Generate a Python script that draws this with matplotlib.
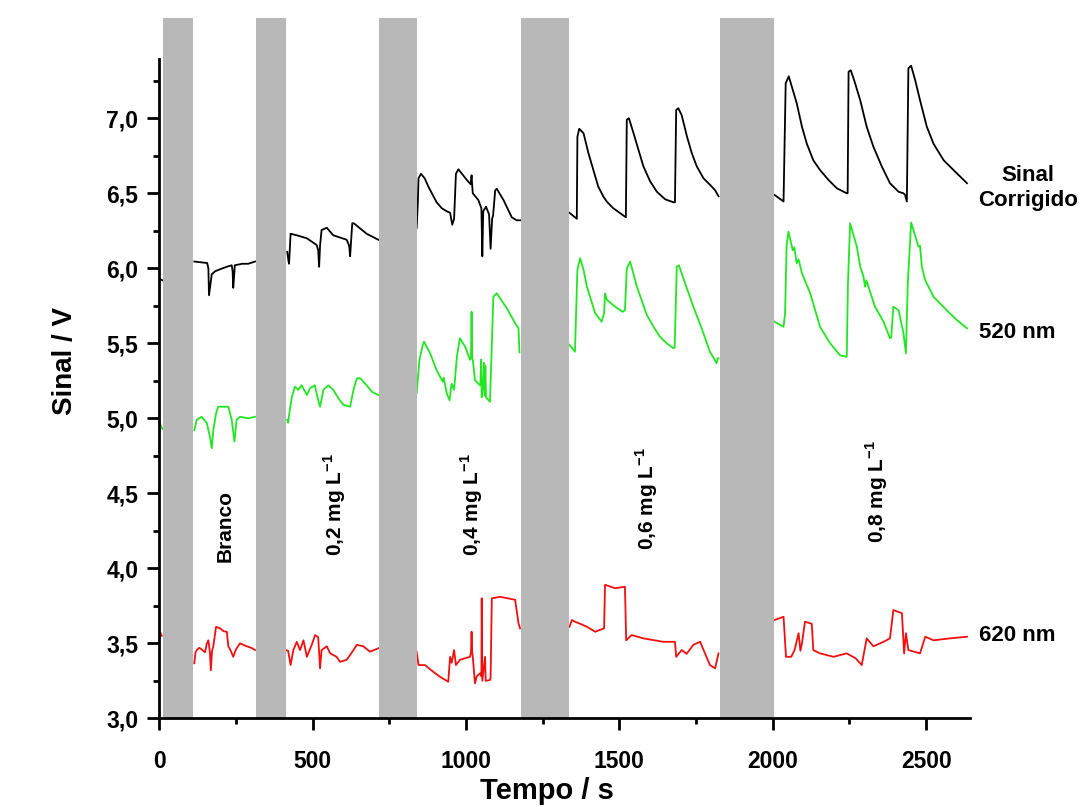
import numpy as np
import matplotlib
matplotlib.use("Agg")
import matplotlib.pyplot as plt
from matplotlib.ticker import MultipleLocator, FuncFormatter

nan = np.nan

# Corrected signal (black)
t_corr = [0, 10, nan,
          114, 156, 160, 162, 171, 182, 200, 220, 236, 239, 241, 244, 246, 270, 290, 312, nan,
          417, 421, 423, 428, 448, 481, 513, 518, 521, 524, 529, 546, 567, 611, 619, 622, 626, 629, 634, 676, 714, nan,
          839, 843, 845, 853, 865, 877, 904, 921, 937, 948, 955, 961, 967, 975, 1002, 1015, 1018, 1020, 1022, 1040, 1050, 1053,
          1056, 1065, 1075, 1080, 1085, 1088, 1095, 1100, 1122, 1149, 1165, 1176, nan,
          1337, 1361, 1363, 1369, 1383, 1399, 1415, 1431, 1448, 1459, 1480, 1518, 1521, 1524, 1531, 1546, 1562, 1578, 1600,
          1622, 1649, 1676, 1681, 1685, 1692, 1703, 1720, 1736, 1752, 1774, 1796, 1812, 1823, nan,
          2005, 2035, 2042, 2052, 2062, 2078, 2095, 2111, 2132, 2154, 2181, 2209, 2241, 2244, 2247, 2254, 2265, 2285, 2306,
          2328, 2355, 2382, 2410, 2426, 2431, 2437, 2442, 2451, 2464, 2480, 2502, 2524, 2557, 2589, 2633]
v_corr = [5.93, 5.92, nan,
          6.045, 6.035, 6.0, 5.82, 5.96, 5.98, 5.995, 6.01, 6.02, 5.98, 5.87, 5.95, 6.02, 6.03, 6.03, 6.045, nan,
          6.11, 6.05, 6.03, 6.23, 6.22, 6.20, 6.155, 6.12, 6.01, 6.15, 6.255, 6.27, 6.22, 6.19, 6.15, 6.08, 6.20, 6.30, 6.30, 6.23, 6.19, nan,
          6.27, 6.45, 6.60, 6.63, 6.60, 6.545, 6.44, 6.40, 6.38, 6.37, 6.29, 6.33, 6.63, 6.66, 6.59, 6.56, 6.62, 6.55, 6.50, 6.455, 6.40, 6.08,
          6.38, 6.41, 6.36, 6.13, 6.33, 6.35, 6.52, 6.53, 6.455, 6.34, 6.32, 6.32, nan,
          6.37, 6.33, 6.877, 6.93, 6.90, 6.767, 6.655, 6.544, 6.477, 6.444, 6.40, 6.344, 6.34, 6.99, 7.0, 6.90, 6.79, 6.68, 6.58,
          6.51, 6.46, 6.44, 6.44, 7.055, 7.067, 7.02, 6.88, 6.767, 6.68, 6.60, 6.555, 6.52, 6.48, nan,
          6.49, 6.445, 7.233, 7.28, 7.21, 7.10, 6.944, 6.83, 6.72, 6.655, 6.59, 6.533, 6.50, 6.50, 7.31, 7.32, 7.255, 7.12, 6.944,
          6.81, 6.68, 6.567, 6.51, 6.50, 6.49, 6.445, 7.333, 7.35, 7.255, 7.12, 6.944, 6.83, 6.72, 6.655, 6.567]

# 520 nm signal (green)
t_520 = [0, 5, 10, nan,
         114, 122, 138, 155, 165, 171, 176, 185, 192, 225, 236, 245, 252, 263, 290, 312, nan,
         417, 420, 425, 432, 442, 453, 464, 481, 491, 507, 518, 524, 535, 551, 567, 584, 600, 622, 633, 644, 655, 676, 693, 714, nan,
         839, 848, 859, 863, 883, 904, 924, 927, 937, 946, 953, 961, 970, 980, 997, 1013, 1016, 1018, 1020, 1022, 1029, 1040,
         1047, 1049, 1051, 1055, 1058, 1061, 1063, 1065, 1078, 1089, 1100, 1133, 1160, 1171, 1174, nan,
         1337, 1355, 1363, 1372, 1383, 1394, 1421, 1442, 1450, 1453, 1459, 1486, 1510, 1518, 1524, 1535, 1557, 1589, 1611, 1632,
         1654, 1676, 1680, 1687, 1694, 1714, 1741, 1768, 1795, 1817, 1820, 1823, nan,
         2005, 2035, 2040, 2045, 2051, 2065, 2070, 2078, 2084, 2095, 2122, 2154, 2187, 2219, 2241, 2245, 2252, 2274, 2285,
         2295, 2301, 2305, 2333, 2361, 2382, 2386, 2393, 2410, 2426, 2434, 2440, 2451, 2475, 2480, 2486, 2497, 2524, 2567,
         2600, 2633]
v_520 = [4.98, 4.95, 4.93, nan,
         4.92, 4.99, 5.01, 4.967, 4.877, 4.80, 4.92, 5.033, 5.077, 5.077, 4.99, 4.845, 4.99, 5.01, 5.0, 5.01, nan,
         4.99, 4.97, 5.05, 5.14, 5.21, 5.19, 5.22, 5.155, 5.20, 5.22, 5.12, 5.077, 5.19, 5.22, 5.19, 5.133, 5.09, 5.077, 5.19, 5.267, 5.267, 5.22, 5.177, 5.155, nan,
         5.167, 5.39, 5.49, 5.51, 5.433, 5.32, 5.245, 5.27, 5.167, 5.12, 5.23, 5.19, 5.41, 5.533, 5.477, 5.39, 5.40, 5.71, 5.40, 5.39, 5.255, 5.23,
         5.22, 5.39, 5.14, 5.20, 5.37, 5.15, 5.35, 5.14, 5.11, 5.81, 5.833, 5.733, 5.633, 5.60, 5.44, nan,
         5.49, 5.444, 5.99, 6.067, 5.99, 5.877, 5.70, 5.644, 5.70, 5.833, 5.79, 5.744, 5.71, 5.72, 6.0, 6.044, 5.877, 5.69, 5.61, 5.544,
         5.50, 5.467, 5.47, 6.01, 6.02, 5.90, 5.744, 5.60, 5.444, 5.367, 5.40, 5.40, nan,
         5.644, 5.61, 5.70, 6.15, 6.244, 6.12, 6.14, 6.033, 6.06, 5.967, 5.833, 5.61, 5.50, 5.42, 5.41, 5.90, 6.30, 6.144, 6.01,
         5.95, 5.877, 5.92, 5.744, 5.644, 5.533, 5.54, 5.744, 5.72, 5.567, 5.433, 5.90, 6.305, 6.144, 6.15, 6.01, 5.92, 5.81, 5.72,
         5.655, 5.60]

# 620 nm signal (red)
t_620 = [0, 4, 8, nan,
         114, 118, 122, 130, 138, 149, 155, 160, 165, 168, 172, 176, 185, 198, 210, 220, 225, 233, 241, 250, 263, 285, 300, 312, nan,
         413, 420, 428, 437, 448, 459, 470, 481, 497, 508, 518, 524, 529, 546, 557, 578, 589, 611, 633, 644, 665, 687, 714, nan,
         839, 845, 866, 893, 915, 942, 948, 953, 961, 967, 980, 1013, 1016, 1018, 1020, 1022, 1029, 1035, 1046, 1050, 1051, 1053,
         1062, 1064, 1078, 1080, 1084, 1111, 1160, 1171, 1176, nan,
         1337, 1345, 1355, 1372, 1394, 1421, 1437, 1450, 1453, 1486, 1518, 1522, 1540, 1578, 1643, 1681, 1685, 1703, 1719,
         1741, 1763, 1779, 1795, 1812, 1823, nan,
         2005, 2035, 2043, 2060, 2071, 2084, 2090, 2095, 2105, 2127, 2132, 2154, 2198, 2241, 2270, 2290, 2306, 2328, 2361,
         2382, 2393, 2421, 2428, 2434, 2442, 2480, 2497, 2524, 2578, 2633]
v_620 = [3.53, 3.57, 3.55, nan,
         3.367, 3.44, 3.455, 3.47, 3.46, 3.44, 3.50, 3.52, 3.44, 3.32, 3.45, 3.48, 3.61, 3.60, 3.58, 3.577, 3.48, 3.45, 3.41, 3.46, 3.50, 3.48, 3.47, 3.455, nan,
         3.455, 3.45, 3.355, 3.455, 3.51, 3.455, 3.52, 3.41, 3.49, 3.555, 3.54, 3.333, 3.455, 3.48, 3.433, 3.41, 3.377, 3.39, 3.455, 3.49, 3.48, 3.444, 3.467, nan,
         3.444, 3.355, 3.355, 3.31, 3.277, 3.244, 3.41, 3.37, 3.455, 3.355, 3.39, 3.41, 3.44, 3.577, 3.44, 3.41, 3.233, 3.28, 3.30, 3.28, 3.80, 3.25,
         3.41, 3.25, 3.255, 3.27, 3.80, 3.81, 3.79, 3.633, 3.60, nan,
         3.61, 3.655, 3.644, 3.63, 3.61, 3.577, 3.59, 3.60, 3.89, 3.867, 3.877, 3.52, 3.555, 3.533, 3.51, 3.51, 3.41, 3.455, 3.43,
         3.49, 3.51, 3.433, 3.355, 3.333, 3.433, nan,
         3.655, 3.677, 3.41, 3.41, 3.455, 3.567, 3.45, 3.50, 3.644, 3.63, 3.455, 3.433, 3.41, 3.433, 3.40, 3.355, 3.533, 3.48, 3.51,
         3.533, 3.722, 3.70, 3.433, 3.567, 3.455, 3.433, 3.544, 3.52, 3.533, 3.544]

# Injection / washing intervals (s) shown as grey bands
band_start = [11, 316, 715, 1179, 1828]
band_end = [111, 413, 839, 1337, 2005]

# Concentration labels for each step
step_labels = ["Branco", r"0,2 mg L$^{\mathbf{-1}}$", r"0,4 mg L$^{\mathbf{-1}}$",
               r"0,6 mg L$^{\mathbf{-1}}$", r"0,8 mg L$^{\mathbf{-1}}$"]
step_label_x = [214, 573, 1020, 1590, 2340]
step_label_y = [4.04, 4.08, 4.08, 4.12, 4.17]

series_names = ["Sinal\nCorrigido", "520 nm", "620 nm"]

plt.rcParams['font.family'] = ['Liberation Sans', 'DejaVu Sans']
plt.rcParams['mathtext.fontset'] = 'custom'
plt.rcParams['mathtext.rm'] = 'Liberation Sans'
plt.rcParams['mathtext.bf'] = 'Liberation Sans:bold'

fig = plt.figure(figsize=(10.83, 8.07), dpi=100)
ax = fig.add_axes([0.1471, 0.1099, 0.7486, 0.8166])

y_min, y_max = 3.0, 7.393
band_top = 7.67
ax.bar(band_start, [band_top - y_min] * len(band_start),
       width=np.array(band_end) - np.array(band_start), bottom=y_min,
       align='edge', color='#b8b8b8', clip_on=False, zorder=3.5, linewidth=0)

ax.plot(t_corr, v_corr, color='black', lw=1.3, zorder=3)
ax.plot(t_520, v_520, color='#22e622', lw=1.3, zorder=3)
ax.plot(t_620, v_620, color='#f01010', lw=1.3, zorder=3)

ax.set_xlim(0, 2643)
ax.set_ylim(y_min, y_max)

for s in ['top', 'right']:
    ax.spines[s].set_visible(False)
for s in ['left', 'bottom']:
    ax.spines[s].set_linewidth(2)
    ax.spines[s].set_zorder(4)

ax.xaxis.set_major_locator(MultipleLocator(500))
ax.xaxis.set_minor_locator(MultipleLocator(250))
ax.yaxis.set_major_locator(MultipleLocator(0.5))
ax.yaxis.set_minor_locator(MultipleLocator(0.25))
ax.yaxis.set_major_formatter(FuncFormatter(lambda v, p: f"{v:.1f}".replace('.', ',')))
ax.xaxis.set_major_formatter(FuncFormatter(lambda v, p: f"{v:.0f}"))

ax.tick_params(axis='both', which='major', direction='out', length=8.6, width=2, labelsize=16.5)
ax.tick_params(axis='both', which='minor', direction='out', length=4.5, width=2)
ax.tick_params(axis='x', which='major', pad=14)
ax.tick_params(axis='y', which='major', pad=6.5)
for lbl in ax.get_xticklabels() + ax.get_yticklabels():
    lbl.set_fontweight('bold')

ax.set_xlabel("Tempo / s", fontsize=21, fontweight='bold')
ax.xaxis.set_label_coords(0.478, -0.089)
ax.set_ylabel("Sinal / V", fontsize=20, fontweight='bold')
ax.yaxis.set_label_coords(-0.100, 0.542)

for lab, x, y in zip(step_labels, step_label_x, step_label_y):
    ax.text(x, y, lab, rotation=90, ha='center', va='bottom', fontsize=15,
            fontweight='bold', zorder=5)

ax.text(2832, 6.535, series_names[0], ha='center', va='center', fontsize=16,
        fontweight='bold', clip_on=False, linespacing=1.2)
ax.text(2673, 5.569, series_names[1], ha='left', va='center', fontsize=16,
        fontweight='bold', clip_on=False)
ax.text(2673, 3.555, series_names[2], ha='left', va='center', fontsize=16,
        fontweight='bold', clip_on=False)

fig.savefig("out.png", dpi=100, facecolor='white')
